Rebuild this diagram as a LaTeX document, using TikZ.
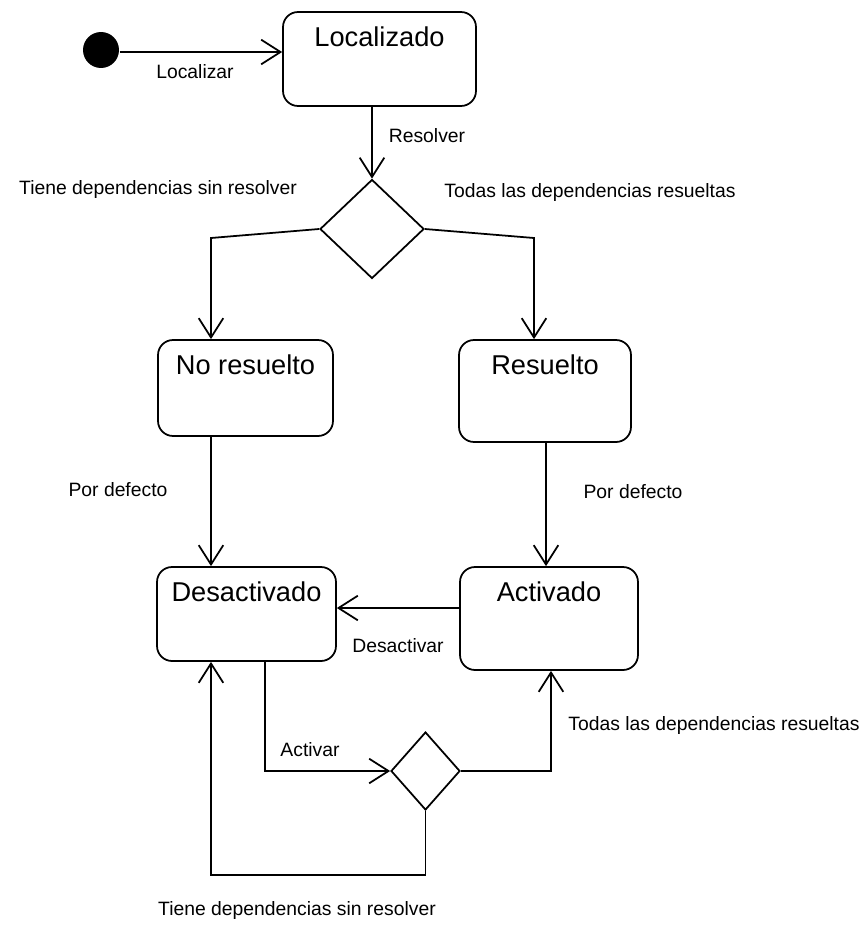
\documentclass[tikz,border=0pt]{standalone}
\usepackage{fontspec}
\setmainfont{Liberation Sans}
\usetikzlibrary{arrows.meta,shapes.geometric}
\begin{document}
\begin{tikzpicture}[x=0.02cm,y=-0.02cm,
  line width=1pt,
  arr/.style={-{Straight Barb[length=11pt,width=14pt,line width=1pt]}},
  statebox/.style={draw,rounded corners=0.3cm,inner sep=0pt},
  title/.style={font=\fontsize{15.5}{18}\selectfont,inner sep=0pt},
  lbl/.style={font=\fontsize{11}{13}\selectfont,inner sep=0pt},
  choice/.style={draw,diamond,inner sep=0pt}]
\useasboundingbox (0,0) rectangle (866,926);
% initial
\node[circle,fill=black,minimum size=0.72cm,inner sep=0pt] (init) at (101,50) {};
% states
\node[statebox,minimum width=3.86cm,minimum height=1.88cm] (loc) at (379.5,59) {};
\node[title] (locT) at (379.5,37) {Localizado};
\node[statebox,minimum width=3.5cm,minimum height=1.92cm] (nores) at (245.5,388) {};
\node[title] (noresT) at (245.5,365) {No resuelto};
\node[statebox,minimum width=3.44cm,minimum height=2.04cm] (res) at (545,391) {};
\node[title] (resT) at (545,365) {Resuelto};
\node[statebox,minimum width=3.58cm,minimum height=1.88cm] (des) at (246.5,614) {};
\node[title] (desT) at (246.5,592) {Desactivado};
\node[statebox,minimum width=3.56cm,minimum height=2.06cm] (act) at (549,618.5) {};
\node[title] (actT) at (549,592) {Activado};
% choices
\node[choice,minimum width=2.08cm,minimum height=1.98cm] (d1) at (372,229) {};
\node[choice,minimum width=1.38cm,minimum height=1.56cm] (d2) at (425.5,771) {};
% corner points
\coordinate (c1) at (211,238);
\coordinate (c2) at (534,238);
\coordinate (c3) at (265,771);
\coordinate (c4) at (551,771);
\coordinate (c5) at (425.5,875);
\coordinate (c6) at (211,875);
% connectors
\draw[arr] (init.east |- 0,52) -- (loc.west |- 0,52);
\draw[arr] (d1.north |- loc.south) -- (d1.north);
\draw[arr] (d1.west) -- (c1) -- (c1 |- nores.north);
\draw[arr] (d1.east) -- (c2) -- (c2 |- res.north);
\draw[arr] (211,0 |- nores.south) -- (211,0 |- des.north);
\draw[arr] (546,0 |- res.south) -- (546,0 |- act.north);
\draw[arr] (act.west |- 0,608) -- (des.east |- 0,608);
\draw[arr] (c3 |- des.south) -- (c3) -- (d2.west);
\draw[arr] (d2.east) -- (c4) -- (c4 |- act.south);
\draw[arr] (d2.south) -- (c5) -- (c6) -- (c6 |- des.south);
% labels
\node[lbl] (l1) at (195,72) {Localizar};
\node[lbl] (l2) at (427,136) {Resolver};
\node[lbl] (l3) at (158,190) {Tiene dependencias sin resolver};
\node[lbl] (l4) at (590,193) {Todas las dependencias resueltas};
\node[lbl] (l5) at (118,490) {Por defecto};
\node[lbl] (l6) at (633,492) {Por defecto};
\node[lbl] (l7) at (398,646) {Desactivar};
\node[lbl] (l8) at (310,750) {Activar};
\node[lbl] (l9) at (714,725) {Todas las dependencias resueltas};
\node[lbl] (l10) at (297,910) {Tiene dependencias sin resolver};
\end{tikzpicture}
\end{document}
